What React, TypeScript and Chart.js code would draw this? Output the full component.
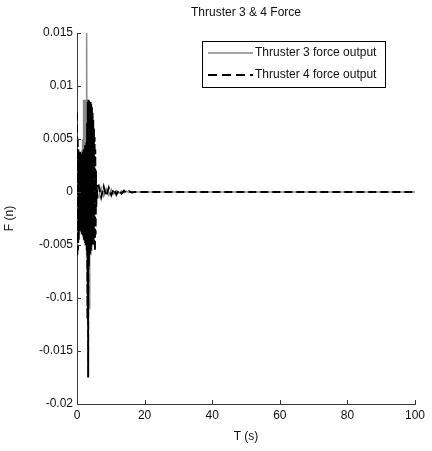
import React, { useEffect, useRef } from "react";
import { Chart, registerables } from "chart.js";

Chart.register(...registerables);

const TITLE = "Thruster 3 & 4 Force";
const X_LABEL = "T (s)";
const Y_LABEL = "F (n)";
const SERIES_NAMES = ["Thruster 3 force output", "Thruster 4 force output"];

const X_TICKS = [0, 20, 40, 60, 80, 100];
const X_TICK_LABELS = ["0", "20", "40", "60", "80", "100"];
const Y_TICKS = [-0.02, -0.015, -0.01, -0.005, 0, 0.005, 0.01, 0.015];
const Y_TICK_LABELS = ["-0.02", "-0.015", "-0.01", "-0.005", "0", "0.005", "0.01", "0.015"];

const TIME_DENSE = [
  0.0, 0.1, 0.2, 0.3, 0.4, 0.5, 0.6, 0.7, 0.8, 0.9,
  1.0, 1.1, 1.2, 1.3, 1.4, 1.5, 1.6, 1.7, 1.8, 1.9,
  2.0, 2.1, 2.2, 2.3, 2.4, 2.5, 2.6, 2.7, 2.8, 2.9,
  3.0, 3.1, 3.2, 3.3, 3.4, 3.5, 3.6, 3.7, 3.8, 3.9,
  4.0, 4.1, 4.2, 4.3, 4.4, 4.5, 4.6, 4.7, 4.8, 4.9,
  5.0, 5.1, 5.2, 5.3, 5.4, 5.5, 5.6, 5.7, 5.8, 5.9, 6.0,
];

const T3_DENSE = [
  0.0, 0.003, -0.005, 0.0035, -0.0048, 0.003, -0.004, 0.0028, -0.0035, 0.003,
  -0.003, 0.0032, -0.0032, 0.0035, -0.0035, 0.004, -0.0038, 0.005, -0.004, 0.0087,
  -0.0045, 0.0087, -0.0048, 0.0087, -0.005, 0.0086, -0.005, 0.0087, -0.006, 0.015,
  -0.007, 0.0087, -0.009, 0.008, -0.0105, 0.0075, -0.011, 0.007, -0.0085, 0.0065,
  -0.006, 0.006, -0.0055, 0.0055, -0.005, 0.005, -0.0045, 0.0045, -0.004, 0.004,
  -0.0035, 0.003, -0.003, 0.002, -0.002, 0.0012, -0.001, 0.0006, -0.0005, 0.0004, -0.0003,
];

const T4_DENSE = [
  0.0075, -0.006, 0.0052, -0.0055, 0.004, -0.0045, 0.003, -0.0038, 0.0036, -0.003,
  0.0038, -0.0035, 0.0036, -0.0038, 0.0034, -0.004, 0.0036, -0.0038, 0.0038, -0.0042,
  0.004, -0.0045, 0.0042, -0.0046, 0.0044, -0.0048, 0.0045, -0.005, 0.0048, -0.0055,
  0.0065, -0.012, 0.0085, -0.0175, 0.0087, -0.007, 0.0087, -0.006, 0.0086, -0.0058,
  0.0085, -0.0055, 0.0084, -0.0052, 0.008, -0.005, 0.0075, -0.0048, 0.0068, -0.0046,
  0.006, -0.005, 0.0052, -0.0056, 0.004, -0.004, 0.002, -0.0015, 0.0008, -0.0006, 0.0005,
];

const TIME_TAIL = [6.4, 7.15, 7.9, 8.65, 9.4, 10.15, 10.9, 11.65, 12.4, 13.15, 13.9, 14.65, 15.4, 16.15, 17, 20, 100];
const T3_TAIL = [-0.0005, 0.0004, -0.0004, 0.0003, -0.0003, 0.00025, -0.0002, 0.00015, -0.00012, 0.0001, -0.00008, 0.00006, -0.00004, 0.00002, 0, 0, 0];
const T4_TAIL = [0.0006, -0.0005, 0.0005, -0.0004, 0.0004, -0.0003, 0.0003, -0.00025, 0.0002, -0.00015, 0.00012, -0.0001, 0.00008, -0.00005, 0, 0, 0];

const GREY = "#8a8a8a";
const BLACK = "#000000";
const AXIS = "#3a3a3a";
const FONT = "'Liberation Sans', Arial, sans-serif";
const FONT_SIZE = 12;

function toPoints(ts: number[], vs: number[]) {
  return ts.map((t, i) => ({ x: t, y: vs[i] }));
}

const decorPlugin = {
  id: "decor",
  afterDraw(chart: any) {
    const { ctx, chartArea } = chart;
    const { left, right, top, bottom } = chartArea;
    const xs = chart.scales.x;
    const ys = chart.scales.y;
    ctx.save();
    ctx.strokeStyle = AXIS;
    ctx.lineWidth = 1;
    ctx.beginPath();
    X_TICKS.forEach((v) => {
      const px = Math.round(xs.getPixelForValue(v)) + 0.5;
      ctx.moveTo(px, bottom);
      ctx.lineTo(px, bottom - 4);
    });
    Y_TICKS.forEach((v) => {
      const py = Math.round(ys.getPixelForValue(v)) + 0.5;
      ctx.moveTo(left, py);
      ctx.lineTo(left + 4, py);
    });
    ctx.stroke();

    ctx.fillStyle = "#111";
    ctx.font = `${FONT_SIZE}px ${FONT}`;
    ctx.textAlign = "center";
    ctx.textBaseline = "middle";
    const cx = (left + right) / 2;
    ctx.fillText(TITLE, cx, 13);
    ctx.fillText(X_LABEL, cx, 437);
    ctx.save();
    ctx.translate(10, (top + bottom) / 2);
    ctx.rotate(-Math.PI / 2);
    ctx.fillText(Y_LABEL, 0, 0);
    ctx.restore();

    const lx = 202, ly = 41, lw = 183, lh = 46;
    ctx.fillStyle = "#fff";
    ctx.fillRect(lx, ly, lw, lh);
    ctx.strokeStyle = "#000";
    ctx.lineWidth = 1;
    ctx.strokeRect(lx + 0.5, ly + 0.5, lw, lh);
    const rows = [ly + 12, ly + 34];
    ctx.lineWidth = 1.5;
    ctx.strokeStyle = GREY;
    ctx.beginPath();
    ctx.moveTo(lx + 6, rows[0]);
    ctx.lineTo(lx + 51, rows[0]);
    ctx.stroke();
    ctx.lineWidth = 2;
    ctx.strokeStyle = BLACK;
    ctx.setLineDash([9, 5]);
    ctx.beginPath();
    ctx.moveTo(lx + 6, rows[1]);
    ctx.lineTo(lx + 51, rows[1]);
    ctx.stroke();
    ctx.setLineDash([]);
    ctx.fillStyle = "#111";
    ctx.textAlign = "left";
    ctx.fillText(SERIES_NAMES[0], lx + 53, rows[0]);
    ctx.fillText(SERIES_NAMES[1], lx + 53, rows[1]);
    ctx.restore();
  },
};

export default function App() {
  const ref = useRef<HTMLCanvasElement | null>(null);
  useEffect(() => {
    document.body.style.margin = "0";
    const canvas = ref.current!;
    const chart = new Chart(canvas, {
      type: "line",
      data: {
        datasets: [
          {
            label: SERIES_NAMES[0],
            data: [...toPoints(TIME_DENSE, T3_DENSE), ...toPoints(TIME_TAIL, T3_TAIL)],
            borderColor: GREY,
            borderWidth: 1.5,
            pointRadius: 0,
            tension: 0,
            order: 2,
          },
          {
            label: SERIES_NAMES[1],
            data: [...toPoints(TIME_DENSE, T4_DENSE), ...toPoints(TIME_TAIL, T4_TAIL)],
            borderColor: BLACK,
            borderWidth: 2,
            borderDash: [8, 4],
            pointRadius: 0,
            tension: 0,
            order: 1,
          },
        ],
      },
      options: {
        animation: false,
        responsive: false,
        devicePixelRatio: 1,
        layout: { padding: { top: 33, right: 17, left: 0, bottom: 0 } },
        plugins: { legend: { display: false }, tooltip: { enabled: false }, title: { display: false } },
        scales: {
          x: {
            type: "linear",
            min: 0,
            max: 100,
            afterBuildTicks: (s: any) => { s.ticks = X_TICKS.map((v) => ({ value: v })); },
            afterFit: (s: any) => { s.height = 47; },
            grid: { display: false, drawTicks: false },
            border: { display: true, color: AXIS, width: 1 },
            ticks: {
              padding: 4,
              color: "#111",
              font: { family: FONT, size: FONT_SIZE },
              maxRotation: 0,
              callback: (v: any) => X_TICK_LABELS[X_TICKS.indexOf(Number(v))] ?? "",
            },
          },
          y: {
            type: "linear",
            min: -0.02,
            max: 0.015,
            afterBuildTicks: (s: any) => { s.ticks = Y_TICKS.map((v) => ({ value: v })); },
            afterFit: (s: any) => { s.width = 77; },
            grid: { display: false, drawTicks: false },
            border: { display: true, color: AXIS, width: 1 },
            ticks: {
              padding: 4,
              color: "#111",
              font: { family: FONT, size: FONT_SIZE },
              callback: (v: any) => {
                const i = Y_TICKS.findIndex((t) => Math.abs(t - Number(v)) < 1e-9);
                return i >= 0 ? Y_TICK_LABELS[i] : "";
              },
            },
          },
        },
      },
      plugins: [decorPlugin],
    });
    return () => chart.destroy();
  }, []);
  return <canvas ref={ref} width={432} height={451} style={{ display: "block" }} />;
}
